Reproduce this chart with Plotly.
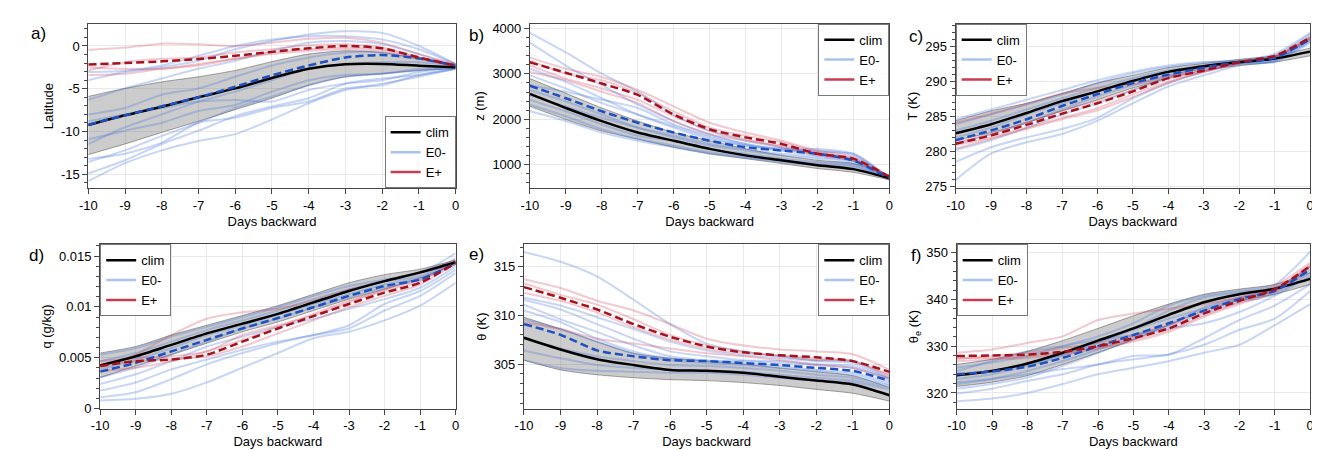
import plotly.graph_objects as go

DAYS = [-10, -9, -8, -7, -6, -5, -4, -3, -2, -1, 0]
DAY_LABELS = ["-10", "-9", "-8", "-7", "-6", "-5", "-4", "-3", "-2", "-1", "0"]

# ---------------- a) Latitude ----------------
LAT_CLIM = [-9.24, -8.1, -7.1, -6.0, -4.96, -3.74, -2.67, -2.14, -2.1, -2.3, -2.48]
LAT_HI = [-5.9, -4.96, -4.2, -3.6, -2.86, -1.83, -0.95, -0.57, -0.76, -1.5, -2.1]
LAT_LO = [-12.7, -11.45, -10.1, -8.8, -7.44, -6.1, -4.6, -3.6, -3.24, -2.86, -2.67]
LAT_E0_MEAN = [-9.2, -8.1, -7.05, -6.0, -4.77, -3.43, -2.29, -1.34, -1.07, -1.45, -2.3]
LAT_EP_MEAN = [-2.18, -2.0, -1.8, -1.53, -1.15, -0.69, -0.27, 0.0, -0.27, -1.34, -2.3]
LAT_EP_MEMBERS = [
    [-0.46, -0.19, 0.27, 0.19, 0.0, 0.38, 0.84, 0.95, 0.38, -0.95, -2.1],
    [-2.86, -1.9, -1.5, -1.34, -0.76, -0.38, 0.08, 0.19, -0.19, -1.34, -2.3],
    [-3.4, -3.24, -2.67, -2.29, -1.5, -0.76, -0.38, -0.19, -0.38, -1.34, -2.3],
    [-2.48, -2.67, -2.67, -2.1, -1.5, -0.95, -0.57, -0.38, -0.57, -1.5, -2.3],
]
LAT_E0_MEMBERS = [
    [-4.0, -3.05, -2.48, -1.72, -0.38, 0.57, 1.34, 1.72, 1.53, 0.0, -2.1],
    [-3.05, -2.9, -2.29, -1.15, 0.0, 0.76, 1.15, 1.15, 0.76, -0.38, -2.1],
    [-6.3, -4.96, -3.8, -2.67, -1.72, -0.57, 0.38, 0.57, 0.19, -0.95, -2.3],
    [-8.0, -7.25, -5.7, -4.96, -3.6, -2.29, -1.34, -0.76, -0.76, -1.5, -2.3],
    [-11.45, -9.5, -8.0, -6.5, -5.34, -4.0, -2.67, -2.1, -1.9, -1.9, -2.3],
    [-13.55, -12.2, -10.5, -8.97, -7.25, -5.9, -4.58, -3.6, -3.24, -2.86, -2.48],
    [-14.9, -13.35, -11.45, -9.9, -8.2, -7.06, -6.1, -4.4, -3.8, -3.4, -2.67],
    [-15.8, -13.7, -12.2, -11.1, -10.3, -8.6, -6.7, -5.15, -4.4, -3.6, -2.67],
    [-13.2, -12.6, -11.3, -8.97, -8.4, -7.25, -6.5, -4.96, -4.58, -3.4, -2.67],
    [-8.8, -8.0, -7.25, -6.5, -6.3, -6.5, -5.15, -4.4, -4.0, -3.05, -2.48],
    [-10.9, -9.9, -8.97, -7.6, -6.9, -5.34, -4.0, -3.4, -3.24, -2.67, -2.48],
]

# ---------------- b) z (m) ----------------
Z_CLIM = [2558, 2248, 1959, 1707, 1526, 1346, 1202, 1094, 986, 899, 697]
Z_HI = [2897, 2572, 2248, 1959, 1707, 1526, 1346, 1202, 1094, 1022, 769]
Z_LO = [2284, 1995, 1743, 1562, 1382, 1238, 1130, 1022, 913, 827, 661]
Z_E0_MEAN = [2738, 2464, 2175, 1923, 1707, 1526, 1382, 1310, 1238, 1090, 697]
Z_EP_MEAN = [3257, 3026, 2788, 2536, 2103, 1779, 1599, 1454, 1238, 1130, 733]
Z_EP_MEMBERS = [
    [3365, 3113, 2933, 2644, 2284, 1923, 1707, 1526, 1310, 1166, 733],
    [3293, 3005, 2860, 2572, 2175, 1815, 1635, 1490, 1274, 1130, 719],
    [3041, 2860, 2608, 2356, 1959, 1671, 1526, 1418, 1238, 1094, 719],
    [3185, 2897, 2680, 2428, 2067, 1743, 1562, 1382, 1202, 1094, 719],
]
Z_E0_MEMBERS = [
    [3906, 3474, 3005, 2608, 2103, 1743, 1526, 1382, 1274, 1238, 697],
    [3690, 3185, 2752, 2320, 1959, 1671, 1454, 1346, 1346, 1238, 697],
    [3113, 2824, 2464, 2103, 1815, 1562, 1418, 1346, 1238, 1130, 697],
    [2752, 2608, 2428, 2248, 1887, 1635, 1454, 1310, 1202, 1094, 697],
    [2536, 2284, 2031, 1815, 1635, 1454, 1346, 1238, 1166, 1080, 697],
    [2428, 2175, 1887, 1635, 1526, 1346, 1238, 1130, 1058, 1022, 683],
    [2320, 2067, 1779, 1562, 1418, 1274, 1166, 1079, 1022, 986, 683],
    [2175, 1959, 1707, 1526, 1382, 1238, 1151, 1058, 986, 950, 683],
    [2644, 2392, 2103, 1815, 1599, 1418, 1310, 1202, 1130, 1058, 697],
    [2969, 2680, 2356, 2103, 1851, 1599, 1418, 1310, 1310, 1202, 697],
]

# ---------------- c) T (K) ----------------
T_CLIM = [282.6, 283.9, 285.5, 287.2, 288.6, 290.1, 291.4, 292.2, 292.8, 293.3, 294.3]
T_HI = [284.4, 285.8, 286.9, 288.3, 289.8, 290.9, 292.0, 292.6, 293.2, 293.7, 294.8]
T_LO = [281.6, 282.7, 284.1, 285.8, 287.4, 289.1, 290.5, 291.6, 292.3, 292.8, 293.7]
T_E0_MEAN = [281.6, 283.0, 284.6, 286.5, 288.2, 289.8, 291.0, 292.0, 292.8, 293.4, 296.1]
T_EP_MEAN = [281.1, 282.3, 283.8, 285.4, 286.9, 288.6, 290.5, 291.6, 292.8, 293.7, 296.3]
T_EP_MEMBERS = [
    [284.1, 285.4, 286.8, 288.3, 289.1, 289.6, 290.7, 292.0, 292.8, 293.6, 296.5],
    [280.9, 282.0, 283.4, 284.8, 286.2, 288.2, 290.0, 291.4, 292.6, 293.5, 296.3],
    [281.3, 282.5, 284.1, 285.8, 287.2, 288.8, 290.4, 291.6, 292.7, 293.7, 296.1],
    [280.4, 281.8, 283.2, 284.6, 285.9, 287.8, 289.8, 291.4, 292.6, 293.5, 296.1],
]
T_E0_MEMBERS = [
    [275.9, 279.7, 281.3, 282.5, 284.4, 286.9, 289.3, 290.9, 292.3, 293.0, 295.8],
    [278.5, 280.6, 282.0, 283.2, 284.8, 287.6, 289.8, 291.4, 292.6, 292.8, 295.6],
    [284.6, 286.0, 287.4, 288.8, 290.2, 291.4, 292.3, 292.8, 293.0, 294.0, 297.0],
    [283.9, 285.3, 286.7, 288.2, 289.8, 291.2, 292.1, 292.7, 293.0, 293.7, 296.8],
    [282.0, 283.4, 285.3, 286.9, 288.6, 290.2, 291.4, 292.1, 292.8, 293.0, 296.1],
    [281.1, 282.5, 284.1, 286.0, 287.9, 289.5, 290.9, 291.9, 292.6, 293.3, 296.2],
    [280.2, 281.6, 283.4, 285.3, 286.9, 288.8, 290.7, 292.1, 292.8, 293.3, 295.8],
    [283.0, 284.4, 286.0, 287.6, 289.1, 290.5, 291.6, 292.3, 292.9, 293.4, 296.4],
]

# ---------------- d) q (g/kg) ----------------
Q_CLIM = [0.00424, 0.00514, 0.00626, 0.00739, 0.00835, 0.00931, 0.01044, 0.01156, 0.01253, 0.01339, 0.01439]
Q_HI = [0.00546, 0.0061, 0.00723, 0.00819, 0.00915, 0.01012, 0.01124, 0.01237, 0.01317, 0.01371, 0.01461]
Q_LO = [0.00305, 0.00418, 0.0053, 0.00642, 0.00755, 0.00851, 0.00964, 0.01076, 0.01172, 0.01285, 0.01413]
Q_E0_MEAN = [0.00363, 0.0045, 0.00562, 0.00675, 0.00787, 0.0089, 0.00996, 0.01108, 0.01205, 0.01269, 0.01429]
Q_EP_MEAN = [0.00418, 0.00466, 0.00482, 0.0053, 0.00658, 0.00787, 0.00909, 0.01028, 0.0114, 0.01237, 0.01429]
Q_EP_MEMBERS = [
    [0.00402, 0.0053, 0.00723, 0.00883, 0.00947, 0.0098, 0.0106, 0.01172, 0.01253, 0.01333, 0.01461],
    [0.00369, 0.00402, 0.00466, 0.00562, 0.00675, 0.00803, 0.00931, 0.0106, 0.01156, 0.01253, 0.01445],
    [0.00434, 0.00466, 0.00482, 0.00514, 0.0061, 0.00739, 0.00867, 0.00996, 0.01108, 0.0122, 0.01429],
    [0.00466, 0.00498, 0.00514, 0.00562, 0.00723, 0.00819, 0.00915, 0.01044, 0.01172, 0.01269, 0.01445],
]
Q_E0_MEMBERS = [
    [0.0008, 0.00096, 0.00145, 0.00257, 0.00402, 0.00546, 0.00691, 0.00755, 0.00867, 0.01012, 0.01237],
    [0.00112, 0.00161, 0.00289, 0.00434, 0.00546, 0.00642, 0.00723, 0.00787, 0.00964, 0.01108, 0.01333],
    [0.00177, 0.00257, 0.00385, 0.00482, 0.00578, 0.00658, 0.00723, 0.00819, 0.01028, 0.01156, 0.01365],
    [0.00241, 0.00337, 0.00466, 0.0061, 0.00707, 0.00803, 0.00883, 0.0098, 0.01076, 0.01188, 0.01397],
    [0.00305, 0.00402, 0.0053, 0.00658, 0.00787, 0.00883, 0.00996, 0.01092, 0.01188, 0.01269, 0.01429],
    [0.0053, 0.00594, 0.00707, 0.00803, 0.00899, 0.00996, 0.01108, 0.01205, 0.01269, 0.01333, 0.01526],
    [0.00466, 0.00546, 0.00658, 0.00771, 0.00867, 0.00964, 0.01076, 0.01172, 0.01253, 0.01301, 0.01477],
    [0.00385, 0.00482, 0.00594, 0.00723, 0.00819, 0.00922, 0.01028, 0.01124, 0.0122, 0.01285, 0.01445],
]

# ---------------- e) theta (K) ----------------
TH_CLIM = [307.7, 306.5, 305.5, 304.9, 304.4, 304.3, 304.1, 303.7, 303.3, 302.9, 301.8]
TH_HI = [309.8, 308.6, 307.3, 306.1, 305.6, 305.3, 305.0, 304.6, 304.2, 303.8, 302.6]
TH_LO = [305.4, 304.4, 303.9, 303.6, 303.4, 303.3, 303.1, 302.8, 302.4, 302.0, 301.2]
TH_E0_MEAN = [309.1, 308.0, 306.4, 305.8, 305.4, 305.3, 305.1, 304.9, 304.6, 304.3, 303.3]
TH_EP_MEAN = [312.9, 311.8, 310.6, 309.1, 307.8, 306.8, 306.2, 305.9, 305.7, 305.3, 304.2]
TH_EP_MEMBERS = [
    [313.7, 312.8, 311.5, 310.5, 309.1, 307.6, 306.9, 306.5, 306.3, 306.0, 304.4],
    [313.3, 312.1, 311.1, 309.6, 308.0, 306.9, 306.3, 305.8, 305.4, 305.3, 303.9],
    [312.3, 311.5, 310.3, 308.8, 307.5, 306.6, 306.1, 305.9, 305.6, 305.3, 303.8],
    [309.3, 308.6, 307.6, 307.1, 306.6, 306.1, 305.8, 305.4, 304.9, 304.6, 303.5],
]
TH_E0_MEMBERS = [
    [316.5, 315.5, 314.0, 311.6, 309.1, 307.1, 306.3, 305.8, 305.4, 305.3, 303.6],
    [311.8, 311.0, 309.8, 308.6, 307.3, 306.4, 305.9, 305.6, 305.3, 305.1, 303.5],
    [311.1, 309.6, 308.3, 306.9, 305.8, 305.4, 305.3, 305.1, 304.9, 304.6, 303.3],
    [310.5, 309.3, 307.6, 306.3, 305.6, 305.3, 305.1, 304.8, 304.4, 304.1, 303.1],
    [309.6, 308.6, 307.3, 306.1, 305.4, 305.1, 304.9, 304.6, 304.3, 303.9, 302.9],
    [307.6, 306.6, 305.8, 305.3, 304.9, 304.8, 304.6, 304.3, 303.9, 303.6, 302.8],
    [306.4, 305.6, 304.9, 304.6, 304.4, 304.3, 304.2, 303.9, 303.6, 303.3, 302.6],
    [305.4, 304.6, 304.3, 304.2, 304.1, 304.1, 303.9, 303.6, 303.3, 303.1, 302.4],
    [311.6, 310.6, 309.1, 307.6, 306.3, 305.8, 305.4, 305.3, 305.0, 304.8, 303.5],
]

# ---------------- f) theta_e (K) ----------------
THE_CLIM = [323.8, 324.7, 326.3, 328.6, 331.2, 333.8, 336.7, 339.4, 341.1, 342.3, 344.4]
THE_HI = [326.1, 327.2, 328.9, 331.2, 333.8, 336.5, 339.0, 341.1, 342.2, 343.2, 345.7]
THE_LO = [321.4, 322.3, 323.7, 326.1, 328.6, 331.4, 334.5, 337.6, 339.7, 341.1, 343.2]
THE_E0_MEAN = [324.0, 324.6, 325.6, 327.5, 330.0, 332.4, 334.9, 337.6, 340.1, 341.8, 346.4]
THE_EP_MEAN = [327.9, 328.0, 328.2, 328.8, 330.0, 331.7, 333.8, 337.0, 339.7, 342.2, 347.1]
THE_EP_MEMBERS = [
    [328.6, 329.3, 330.7, 332.1, 335.6, 337.0, 338.0, 339.0, 340.4, 342.9, 347.8],
    [327.2, 327.9, 328.6, 329.6, 330.7, 332.4, 334.5, 337.3, 340.1, 342.2, 347.4],
    [327.5, 327.5, 327.9, 328.6, 329.6, 331.4, 333.5, 336.6, 339.4, 341.8, 347.1],
    [326.8, 327.2, 327.5, 328.2, 329.5, 331.0, 333.1, 336.3, 339.0, 341.5, 346.9],
]
THE_E0_MEMBERS = [
    [318.2, 318.8, 320.0, 321.9, 324.0, 325.4, 326.8, 328.6, 330.3, 334.5, 339.0],
    [319.9, 320.9, 322.6, 324.0, 326.1, 327.2, 328.2, 330.3, 333.5, 335.9, 341.8],
    [322.3, 323.0, 324.0, 325.1, 326.1, 327.9, 328.2, 331.7, 335.6, 338.7, 343.2],
    [324.7, 326.8, 328.9, 330.0, 331.4, 332.4, 333.8, 334.9, 337.3, 340.8, 345.0],
    [323.0, 324.0, 325.8, 327.9, 330.7, 333.8, 337.6, 340.4, 341.5, 342.5, 346.4],
    [325.4, 326.5, 327.9, 330.0, 332.1, 334.9, 338.7, 340.8, 341.8, 343.2, 350.2],
    [321.9, 323.0, 324.7, 326.8, 329.3, 332.1, 334.5, 338.3, 340.4, 342.2, 347.1],
    [320.9, 321.9, 323.3, 325.8, 328.6, 331.4, 334.2, 337.0, 339.4, 341.1, 345.7],
    [323.7, 324.7, 326.1, 328.2, 331.0, 333.5, 335.9, 338.0, 340.1, 341.8, 346.1],
]

# ---------------- axis tick labels ----------------
LAT_TICKS = [-15, -10, -5, 0]
LAT_TICKTEXT = ["-15", "-10", "-5", "0"]
Z_TICKS = [1000, 2000, 3000, 4000]
Z_TICKTEXT = ["1000", "2000", "3000", "4000"]
T_TICKS = [275, 280, 285, 290, 295]
T_TICKTEXT = ["275", "280", "285", "290", "295"]
Q_TICKS = [0, 0.005, 0.01, 0.015]
Q_TICKTEXT = ["0", "0.005", "0.01", "0.015"]
TH_TICKS = [305, 310, 315]
TH_TICKTEXT = ["305", "310", "315"]
THE_TICKS = [320, 330, 340, 350]
THE_TICKTEXT = ["320", "330", "340", "350"]

FONT = "Liberation Sans, Arial, Helvetica, sans-serif"
C_CLIM = "black"
C_BAND = "rgba(120,120,120,0.38)"
C_BAND_EDGE = "rgba(90,90,90,0.7)"
C_E0_MEMBER = "rgba(70,120,220,0.30)"
C_EP_MEMBER = "rgba(205,60,85,0.28)"
C_E0_MEAN = "rgb(30,80,195)"
C_EP_MEAN = "rgb(165,18,30)"
C_E0_LEG = "rgb(168,195,238)"
C_EP_LEG = "rgb(200,60,80)"

PANELS = [
    dict(label="a)", ytitle="Latitude", clim=LAT_CLIM, hi=LAT_HI, lo=LAT_LO, e0m=LAT_E0_MEAN, epm=LAT_EP_MEAN,
         e0=LAT_E0_MEMBERS, ep=LAT_EP_MEMBERS, yr=[-16.64, 2.6], tv=LAT_TICKS, tt=LAT_TICKTEXT, minor=1,
         xd=[72, 443], yd=[14, 182], leg=("right", "bottom"), lab=(22, 24)),
    dict(label="b)", ytitle="z (m)", clim=Z_CLIM, hi=Z_HI, lo=Z_LO, e0m=Z_E0_MEAN, epm=Z_EP_MEAN,
         e0=Z_E0_MEMBERS, ep=Z_EP_MEMBERS, yr=[474, 4108], tv=Z_TICKS, tt=Z_TICKTEXT, minor=200,
         xd=[518, 881], yd=[14, 182], leg=("right", "top"), lab=(464, 26)),
    dict(label="c)", ytitle="T (K)", clim=T_CLIM, hi=T_HI, lo=T_LO, e0m=T_E0_MEAN, epm=T_EP_MEAN,
         e0=T_E0_MEMBERS, ep=T_EP_MEMBERS, yr=[274.7, 298.3], tv=T_TICKS, tt=T_TICKTEXT, minor=1,
         xd=[948, 1306], yd=[14, 182], leg=("left", "top"), lab=(908, 27)),
    dict(label="d)", ytitle="q (g/kg)", clim=Q_CLIM, hi=Q_HI, lo=Q_LO, e0m=Q_E0_MEAN, epm=Q_EP_MEAN,
         e0=Q_E0_MEMBERS, ep=Q_EP_MEMBERS, yr=[-0.00003, 0.01616], tv=Q_TICKS, tt=Q_TICKTEXT, minor=0.001,
         xd=[84, 443], yd=[239, 407], leg=("left", "top"), lab=(20, 250)),
    dict(label="e)", ytitle="θ (K)", clim=TH_CLIM, hi=TH_HI, lo=TH_LO, e0m=TH_E0_MEAN, epm=TH_EP_MEAN,
         e0=TH_E0_MEMBERS, ep=TH_EP_MEMBERS, yr=[300.4, 317.3], tv=TH_TICKS, tt=TH_TICKTEXT, minor=1,
         xd=[512, 881], yd=[239, 407], leg=("right", "top"), lab=(464, 249)),
    dict(label="f)", ytitle="θ<sub>e</sub> (K)", clim=THE_CLIM, hi=THE_HI, lo=THE_LO, e0m=THE_E0_MEAN, epm=THE_EP_MEAN,
         e0=THE_E0_MEMBERS, ep=THE_EP_MEMBERS, yr=[316.6, 351.8], tv=THE_TICKS, tt=THE_TICKTEXT, minor=2,
         xd=[949, 1306], yd=[239, 407], leg=("left", "top"), lab=(908, 251)),
]

W, H = 1320, 450
fig = go.Figure()
layout = dict(
    width=W, height=H, margin=dict(l=0, r=0, t=0, b=0),
    paper_bgcolor="white", plot_bgcolor="white",
    font=dict(family=FONT, size=13, color="black"),
    showlegend=True, annotations=[],
)

SPL = dict(shape="spline", smoothing=0.7)

for i, p in enumerate(PANELS):
    n = i + 1
    xa = "x" if n == 1 else f"x{n}"
    ya = "y" if n == 1 else f"y{n}"
    lg = "legend" if n == 1 else f"legend{n}"
    common = dict(xaxis=xa, yaxis=ya, legend=lg, hoverinfo="skip")

    # band
    fig.add_trace(go.Scatter(x=DAYS, y=p["lo"], mode="lines", line=dict(color=C_BAND_EDGE, width=0.8, **SPL),
                             showlegend=False, **common))
    fig.add_trace(go.Scatter(x=DAYS, y=p["hi"], mode="lines", line=dict(color=C_BAND_EDGE, width=0.8, **SPL),
                             fill="tonexty", fillcolor=C_BAND, showlegend=False, **common))
    # members
    for m in p["e0"]:
        fig.add_trace(go.Scatter(x=DAYS, y=m, mode="lines", line=dict(color=C_E0_MEMBER, width=2, **SPL),
                                 showlegend=False, **common))
    for m in p["ep"]:
        fig.add_trace(go.Scatter(x=DAYS, y=m, mode="lines", line=dict(color=C_EP_MEMBER, width=2, **SPL),
                                 showlegend=False, **common))
    # clim mean
    fig.add_trace(go.Scatter(x=DAYS, y=p["clim"], mode="lines", line=dict(color=C_CLIM, width=2.5, **SPL),
                             showlegend=False, **common))
    # group means
    fig.add_trace(go.Scatter(x=DAYS, y=p["e0m"], mode="lines",
                             line=dict(color=C_E0_MEAN, width=2.5, dash="8px,4px", **SPL),
                             showlegend=False, **common))
    fig.add_trace(go.Scatter(x=DAYS, y=p["epm"], mode="lines",
                             line=dict(color=C_EP_MEAN, width=2.5, dash="8px,4px", **SPL),
                             showlegend=False, **common))
    # legend-only entries
    for nm, col in [("clim", "black"), ("E0-", C_E0_LEG), ("E+", C_EP_LEG)]:
        fig.add_trace(go.Scatter(x=[None], y=[None], mode="lines", name=nm,
                                 line=dict(color=col, width=2.5), showlegend=True, **common))

    x0, x1 = p["xd"][0] / W, p["xd"][1] / W
    y0, y1 = 1 - p["yd"][1] / H, 1 - p["yd"][0] / H
    axkey = "xaxis" if n == 1 else f"xaxis{n}"
    aykey = "yaxis" if n == 1 else f"yaxis{n}"
    layout[axkey] = dict(
        domain=[x0, x1], anchor=ya, range=[-10, 0], tickmode="array", tickvals=DAYS, ticktext=DAY_LABELS,
        showline=True, mirror=True, linecolor="rgb(70,70,70)", linewidth=1,
        ticks="outside", ticklen=5, tickcolor="rgb(70,70,70)", ticklabeloverflow="allow",
        showgrid=True, gridcolor="rgb(232,232,232)", gridwidth=1, zeroline=False,
        tickfont=dict(size=13), title=dict(text="Days backward", font=dict(size=13), standoff=4),
    )
    layout[aykey] = dict(
        domain=[y0, y1], anchor=xa, range=p["yr"], tickmode="array", tickvals=p["tv"], ticktext=p["tt"],
        showline=True, mirror=True, linecolor="rgb(70,70,70)", linewidth=1,
        ticks="outside", ticklen=5, tickcolor="rgb(70,70,70)",
        minor=dict(ticks="outside", ticklen=3, tickcolor="rgb(70,70,70)", tickmode="linear", tick0=0,
                   dtick=p["minor"], showgrid=False),
        showgrid=True, gridcolor="rgb(232,232,232)", gridwidth=1, zeroline=False,
        tickfont=dict(size=13), title=dict(text=p["ytitle"], font=dict(size=13), standoff=4),
    )
    xanc, yanc = p["leg"]
    lx = x1 if xanc == "right" else x0
    ly = y0 if yanc == "bottom" else y1
    layout[lg] = dict(
        x=lx, y=ly, xanchor=xanc, yanchor=yanc, xref="paper", yref="paper",
        bgcolor="rgba(255,255,255,0.85)", bordercolor="rgb(120,120,120)", borderwidth=1,
        font=dict(size=13, family=FONT), itemwidth=30, tracegroupgap=0, traceorder="normal",
    )
    layout["annotations"].append(dict(
        text=p["label"], x=p["lab"][0] / W, y=1 - p["lab"][1] / H, xref="paper", yref="paper",
        xanchor="center", yanchor="middle", showarrow=False, font=dict(size=17, family=FONT),
    ))

fig.update_layout(**layout)
fig.write_html("out.html")
